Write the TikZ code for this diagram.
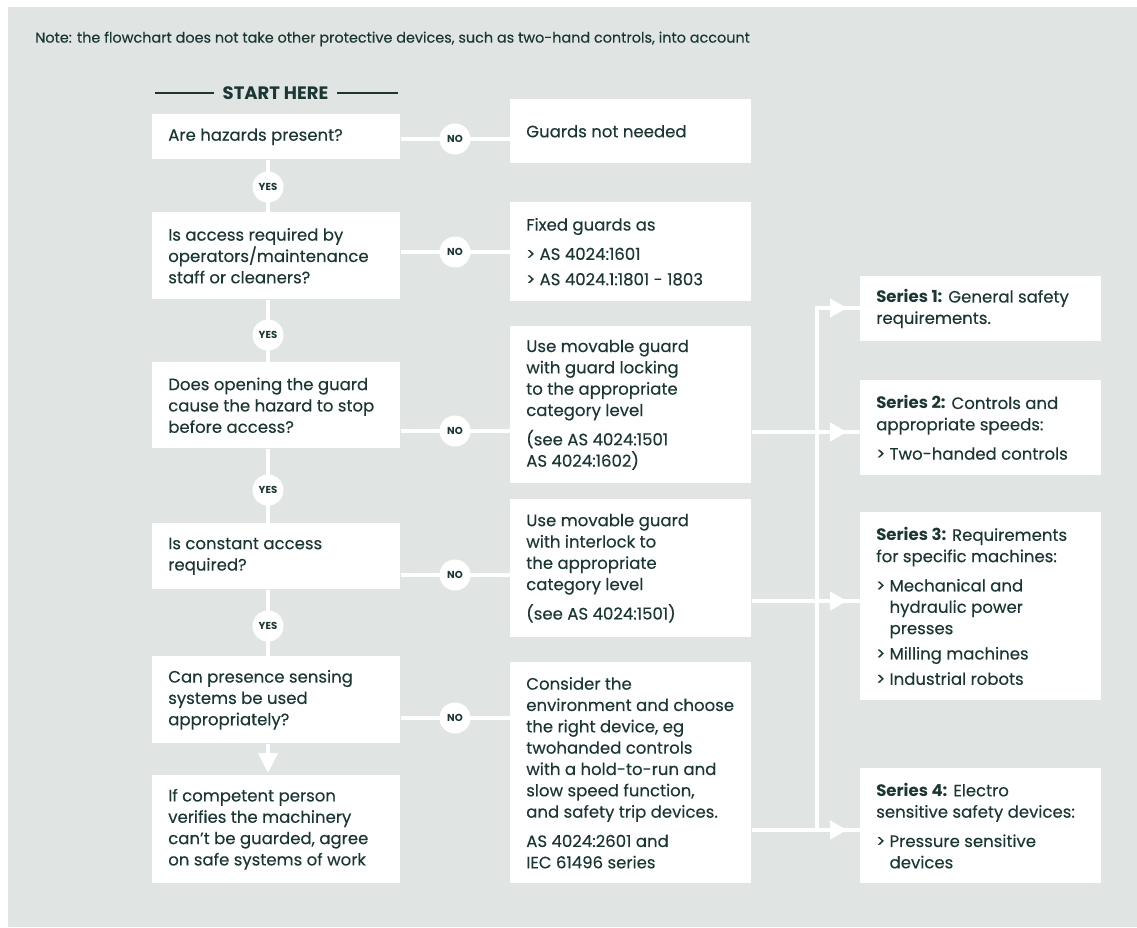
\documentclass[tikz,border=0pt]{standalone}
\usepackage{fontspec}
\setmainfont{Poppins}[UprightFeatures={FakeBold=0.25}]
\usetikzlibrary{arrows.meta,decorations.markings}
\definecolor{bgc}{HTML}{E0E5E4}
\definecolor{ink}{HTML}{1B3733}
\pgfdeclarelayer{back}
\pgfdeclarelayer{lines}
\pgfsetlayers{back,lines,main}
\newcommand\bodyfont{\fontsize{12.4pt}{16pt}\selectfont}
\newcommand\notefont{\fontsize{10.8pt}{12pt}\selectfont}
\newcommand\tagfont{\fontsize{7.6pt}{8pt}\selectfont\bfseries}
\newcommand\ind{\phantom{>\ }}
\begin{document}
\begin{tikzpicture}[x=0.75pt,y=-0.75pt,
  boxL/.style={fill=white,inner sep=0pt,anchor=north west,minimum width=186pt},
  boxR/.style={fill=white,inner sep=0pt,anchor=north west,minimum width=180.75pt},
  bh/.style={minimum height=#1*0.75pt},
  txt/.style={anchor=west,inner sep=0pt,align=left,text=ink,font=\bodyfont,xshift=12pt},
  tag/.style={circle,fill=white,inner sep=0pt,minimum size=23.25pt,text=ink,font=\tagfont},
  conn/.style={draw=white,color=white,line width=3.4pt},
  arr/.style={conn,postaction={decorate},decoration={markings,mark=at position -9.75pt with {\arrow{Triangle[length=12.75pt,width=13.5pt]}}}},
  rule/.style={draw=ink,line width=1.1pt},
]
\useasboundingbox (0,0) rectangle (1137,927);
\begin{pgfonlayer}{back}
\fill[white] (0,0) rectangle (1137,927);
\fill[bgc] (8,7) rectangle (1137,927);
\end{pgfonlayer}

\node[anchor=west,inner sep=0pt,font=\notefont,text=ink] (note) at (35,39) {Note: the flowchart does not take other protective devices, such as two-hand controls, into account};

\node[font=\fontsize{13.5pt}{14pt}\selectfont\bfseries,text=ink,inner xsep=6.5pt,inner ysep=0pt] (start) at (275.5,93) {START HERE};
\coordinate (sl) at (155,93);
\coordinate (sr) at (398,93);
\draw[rule] (sl) -- (start.west);
\draw[rule] (start.east) -- (sr);

% left column
\node[boxL,bh=45] (L1) at (152,114) {};
\node[txt] (L1t) at (L1.west) {Are hazards present?};
\node[boxL,bh=87] (L2) at (152,212) {};
\node[txt] (L2t) at (L2.west) {Is access required by\\operators/maintenance\\staff or cleaners?};
\node[boxL,bh=86] (L3) at (152,362) {};
\node[txt] (L3t) at (L3.west) {Does opening the guard\\cause the hazard to stop\\before access?};
\node[boxL,bh=66] (L4) at (152,523) {};
\node[txt] (L4t) at (L4.west) {Is constant access\\required?};
\node[boxL,bh=87] (L5) at (152,656) {};
\node[txt] (L5t) at (L5.west) {Can presence sensing\\systems be used\\appropriately?};
\node[boxL,bh=108] (L6) at (152,775) {};
\node[txt] (L6t) at (L6.west) {If competent person\\verifies the machinery\\can’t be guarded, agree\\on safe systems of work};

% middle column
\node[boxR,bh=64] (M1) at (510,99) {};
\node[txt] (M1t) at (M1.west) {Guards not needed};
\node[boxR,bh=99] (M2) at (510,202) {};
\node[txt] (M2t) at (M2.west) {Fixed guards as\\[6pt]> AS 4024:1601\\[3pt]> AS 4024.1:1801 - 1803};
\node[boxR,bh=157] (M3) at (510,326) {};
\node[txt] (M3t) at (M3.west) {Use movable guard\\with guard locking\\to the appropriate\\category level\\[6pt](see AS 4024:1501\\AS 4024:1602)};
\node[boxR,bh=138] (M4) at (510,499) {};
\node[txt] (M4t) at (M4.west) {Use movable guard\\with interlock to\\the appropriate\\category level\\[6pt](see AS 4024:1501)};
\node[boxR,bh=221] (M5) at (510,662) {};
\node[txt] (M5t) at (M5.west) {Consider the\\environment and choose\\the right device, eg\\twohanded controls\\with a hold-to-run and\\slow speed function,\\and safety trip devices.\\[6pt]AS 4024:2601 and\\IEC 61496 series};

% right column
\node[boxR,bh=65] (R1) at (860,276) {};
\node[txt] (R1t) at (R1.west) {\textbf{Series 1:} General safety\\requirements.};
\node[boxR,bh=95] (R2) at (860,380) {};
\node[txt] (R2t) at (R2.west) {\textbf{Series 2:} Controls and\\appropriate speeds:\\[6pt]> Two-handed controls};
\node[boxR,bh=188] (R3) at (860,512) {};
\node[txt] (R3t) at (R3.west) {\textbf{Series 3:} Requirements\\for specific machines:\\[6pt]> Mechanical and\\\ind hydraulic power\\\ind presses\\[3pt]> Milling machines\\[3pt]> Industrial robots};
\node[boxR,bh=115] (R4) at (860,768) {};
\node[txt] (R4t) at (R4.west) {\textbf{Series 4:} Electro\\sensitive safety devices:\\[6pt]> Pressure sensitive\\\ind devices};

% tags
\node[tag] (Y1) at (268,187) {YES};
\node[tag] (Y2) at (268,335) {YES};
\node[tag] (Y3) at (268,490) {YES};
\node[tag] (Y4) at (268,626) {YES};
\node[tag] (N1) at (455,139) {NO};
\node[tag] (N2) at (455,252) {NO};
\node[tag] (N3) at (455,431) {NO};
\node[tag] (N4) at (455,575) {NO};
\node[tag] (N5) at (455,718) {NO};

\coordinate (bt) at (817,308);
\coordinate (r2) at (817,432);
\coordinate (r3) at (817,601);
\coordinate (bb) at (817,830);

\begin{pgfonlayer}{lines}
\draw[conn] (Y1 |- L1.south) -- (Y1 |- L2.north);
\draw[conn] (Y2 |- L2.south) -- (Y2 |- L3.north);
\draw[conn] (Y3 |- L3.south) -- (Y3 |- L4.north);
\draw[conn] (Y4 |- L4.south) -- (Y4 |- L5.north);
\draw[conn,-{Triangle[length=15pt,width=14.25pt]},shorten >=1.5pt] (Y4 |- L5.south) -- (Y4 |- L6.north);
\draw[conn] (L1.east |- N1) -- (M1.west |- N1);
\draw[conn] (L2.east |- N2) -- (M2.west |- N2);
\draw[conn] (L3.east |- N3) -- (M3.west |- N3);
\draw[conn] (L4.east |- N4) -- (M4.west |- N4);
\draw[conn] (L5.east |- N5) -- (M5.west |- N5);
\draw[arr] (bb) -- (bt) -- (R1.west |- bt);
\draw[arr] (M3.east |- r2) -- (R2.west |- r2);
\draw[arr] (M4.east |- r3) -- (R3.west |- r3);
\draw[arr] (M5.east |- bb) -- (R4.west |- bb);
\end{pgfonlayer}
\end{tikzpicture}
\end{document}
